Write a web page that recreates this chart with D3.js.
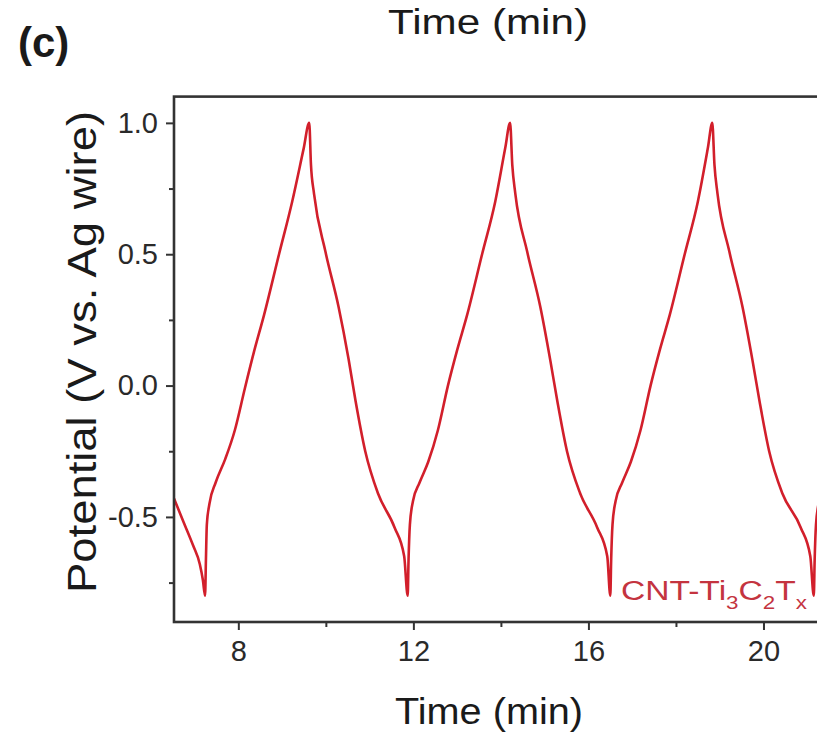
<!DOCTYPE html>
<html lang="en">
<head>
    <meta charset="UTF-8">
    <title>Galvanostatic charge-discharge, CNT-Ti3C2Tx</title>
    <script src="https://d3js.org/d3.v7.min.js"></script>
    <style>
        body { margin: 0; background: white; }
        text { font-family: "Liberation Sans", Arial, sans-serif; fill: #1a1a1a; }
        .axis path, .axis line { stroke: #333; }
    </style>
</head>
<body>
    <div id="chart"></div>
    <script>
        // potential (V vs. Ag wire) against time (min)
        const timeMin = [
            6.53, 6.75, 6.97, 7.12, 7.19, 7.24,
            7.26, 7.28, 7.34, 7.48, 7.70, 7.92, 8.15, 8.36, 8.59, 8.93, 9.23, 9.49, 9.62,
            9.66, 9.73, 9.99, 10.29, 10.52, 10.68, 10.90, 11.19, 11.57, 11.79, 11.87,
            11.89, 11.92, 11.99, 12.14, 12.34, 12.56, 12.79, 13.00, 13.23, 13.57, 13.87, 14.10, 14.21,
            14.26, 14.33, 14.60, 14.90, 15.13, 15.29, 15.51, 15.81, 16.20, 16.43, 16.50,
            16.52, 16.55, 16.62, 16.77, 16.97, 17.19, 17.42, 17.63, 17.86, 18.20, 18.50, 18.73, 18.83,
            18.88, 18.95, 19.22, 19.52, 19.75, 19.91, 20.13, 20.43, 20.85, 21.07, 21.15,
            21.17, 21.20, 21.27, 21.42
        ];
        const potential = [
            -0.43, -0.52, -0.61, -0.68, -0.74, -0.80,
            -0.66, -0.53, -0.45, -0.37, -0.28, -0.17, -0.01, 0.13, 0.27, 0.50, 0.70, 0.90, 1.00,
            0.84, 0.73, 0.51, 0.30, 0.10, -0.06, -0.25, -0.41, -0.54, -0.65, -0.80,
            -0.66, -0.53, -0.44, -0.37, -0.29, -0.17, 0.00, 0.135, 0.27, 0.50, 0.70, 0.905, 1.00,
            0.84, 0.73, 0.51, 0.30, 0.095, -0.06, -0.25, -0.41, -0.54, -0.65, -0.80,
            -0.66, -0.53, -0.44, -0.37, -0.29, -0.17, 0.00, 0.135, 0.27, 0.50, 0.70, 0.905, 1.00,
            0.84, 0.73, 0.51, 0.30, 0.095, -0.06, -0.25, -0.41, -0.54, -0.65, -0.80,
            -0.66, -0.53, -0.44, -0.37
        ];
        const xTicks = [8, 12, 16, 20];
        const xMinorTicks = [10, 14, 18, 22];
        const yTicks = [-0.5, 0.0, 0.5, 1.0];
        const yMinorTicks = [-0.75, -0.25, 0.25, 0.75];

        const width = 817;
        const height = 739;
        const plotLeft = 174, plotTop = 96.6, plotBottom = 622, plotRight = 851;

        const svg = d3.select("#chart").append("svg")
            .attr("width", width)
            .attr("height", height);

        const x = d3.scaleLinear().domain([6.53, 22]).range([plotLeft, plotRight]);
        const y = d3.scaleLinear().domain([-0.9, 1.1]).range([plotBottom, plotTop]);

        // clip for the trace
        svg.append("clipPath").attr("id", "plotClip")
            .append("rect")
            .attr("x", plotLeft).attr("y", plotTop)
            .attr("width", plotRight - plotLeft).attr("height", plotBottom - plotTop);

        const data = timeMin.map((t, i) => ({ t: t, v: potential[i] }));

        const line = d3.line()
            .x(d => x(d.t))
            .y(d => y(d.v))
            .curve(d3.curveMonotoneX);

        svg.append("path")
            .datum(data)
            .attr("clip-path", "url(#plotClip)")
            .attr("fill", "none")
            .attr("stroke", "#d21f2b")
            .attr("stroke-width", 2.6)
            .attr("d", line);

        // axes
        const yAxis = svg.append("g")
            .attr("class", "axis")
            .attr("transform", `translate(${plotLeft},0)`)
            .call(d3.axisLeft(y).tickValues(yTicks).tickSize(8).tickPadding(8)
                .tickFormat(d => d.toFixed(1)));
        yAxis.select(".domain").remove();
        yAxis.selectAll("line").attr("stroke-width", 2);
        yAxis.selectAll("text").style("font-size", "29px").style("fill", "#2a2a2a");

        svg.append("g")
            .attr("class", "axis")
            .attr("transform", `translate(${plotLeft},0)`)
            .call(d3.axisLeft(y).tickValues(yMinorTicks).tickSize(5).tickFormat(""))
            .call(g => g.select(".domain").remove())
            .selectAll("line").attr("stroke-width", 2);

        const xAxis = svg.append("g")
            .attr("class", "axis")
            .attr("transform", `translate(0,${plotBottom})`)
            .call(d3.axisBottom(x).tickValues(xTicks).tickSize(8).tickPadding(10)
                .tickFormat(d3.format("d")));
        xAxis.select(".domain").remove();
        xAxis.selectAll("line").attr("stroke-width", 2);
        xAxis.selectAll("text").style("font-size", "29px").style("fill", "#2a2a2a");

        svg.append("g")
            .attr("class", "axis")
            .attr("transform", `translate(0,${plotBottom})`)
            .call(d3.axisBottom(x).tickValues(xMinorTicks).tickSize(5).tickFormat(""))
            .call(g => g.select(".domain").remove())
            .selectAll("line").attr("stroke-width", 2);

        // frame
        svg.append("rect")
            .attr("x", plotLeft).attr("y", plotTop)
            .attr("width", plotRight - plotLeft).attr("height", plotBottom - plotTop)
            .attr("fill", "none")
            .attr("stroke", "#333")
            .attr("stroke-width", 2.6);

        // axis titles
        svg.append("text")
            .attr("x", 489).attr("y", 724)
            .attr("text-anchor", "middle")
            .attr("textLength", 188)
            .attr("lengthAdjust", "spacingAndGlyphs")
            .style("font-size", "37px")
            .text("Time (min)");

        svg.append("text")
            .attr("transform", "translate(96,352) rotate(-90)")
            .attr("text-anchor", "middle")
            .attr("textLength", 482)
            .attr("lengthAdjust", "spacingAndGlyphs")
            .style("font-size", "40px")
            .text("Potential (V vs. Ag wire)");

        // title left over from the panel above, and panel letter
        svg.append("text")
            .attr("x", 488).attr("y", 34)
            .attr("text-anchor", "middle")
            .attr("textLength", 200)
            .attr("lengthAdjust", "spacingAndGlyphs")
            .style("font-size", "35px")
            .text("Time (min)");

        svg.append("text")
            .attr("x", 18).attr("y", 57)
            .style("font-size", "42px")
            .style("font-weight", "bold")
            .text("(c)");

        // sample label
        const lab = svg.append("text")
            .attr("x", 621).attr("y", 600)
            .attr("textLength", 186)
            .attr("lengthAdjust", "spacingAndGlyphs")
            .style("font-size", "27px")
            .style("fill", "#c4343f");
        const parts = [["CNT-Ti", 0], ["3", 1], ["C", 0], ["2", 1], ["T", 0], ["x", 1]];
        parts.forEach(([s, sub], i) => {
            const prev = i > 0 ? parts[i - 1][1] : 0;
            lab.append("tspan")
                .attr("dy", sub === prev ? 0 : (sub ? 9 : -9))
                .style("font-size", sub ? "18px" : "27px")
                .style("fill", "#c4343f")
                .text(s);
        });
    </script>
</body>
</html>
